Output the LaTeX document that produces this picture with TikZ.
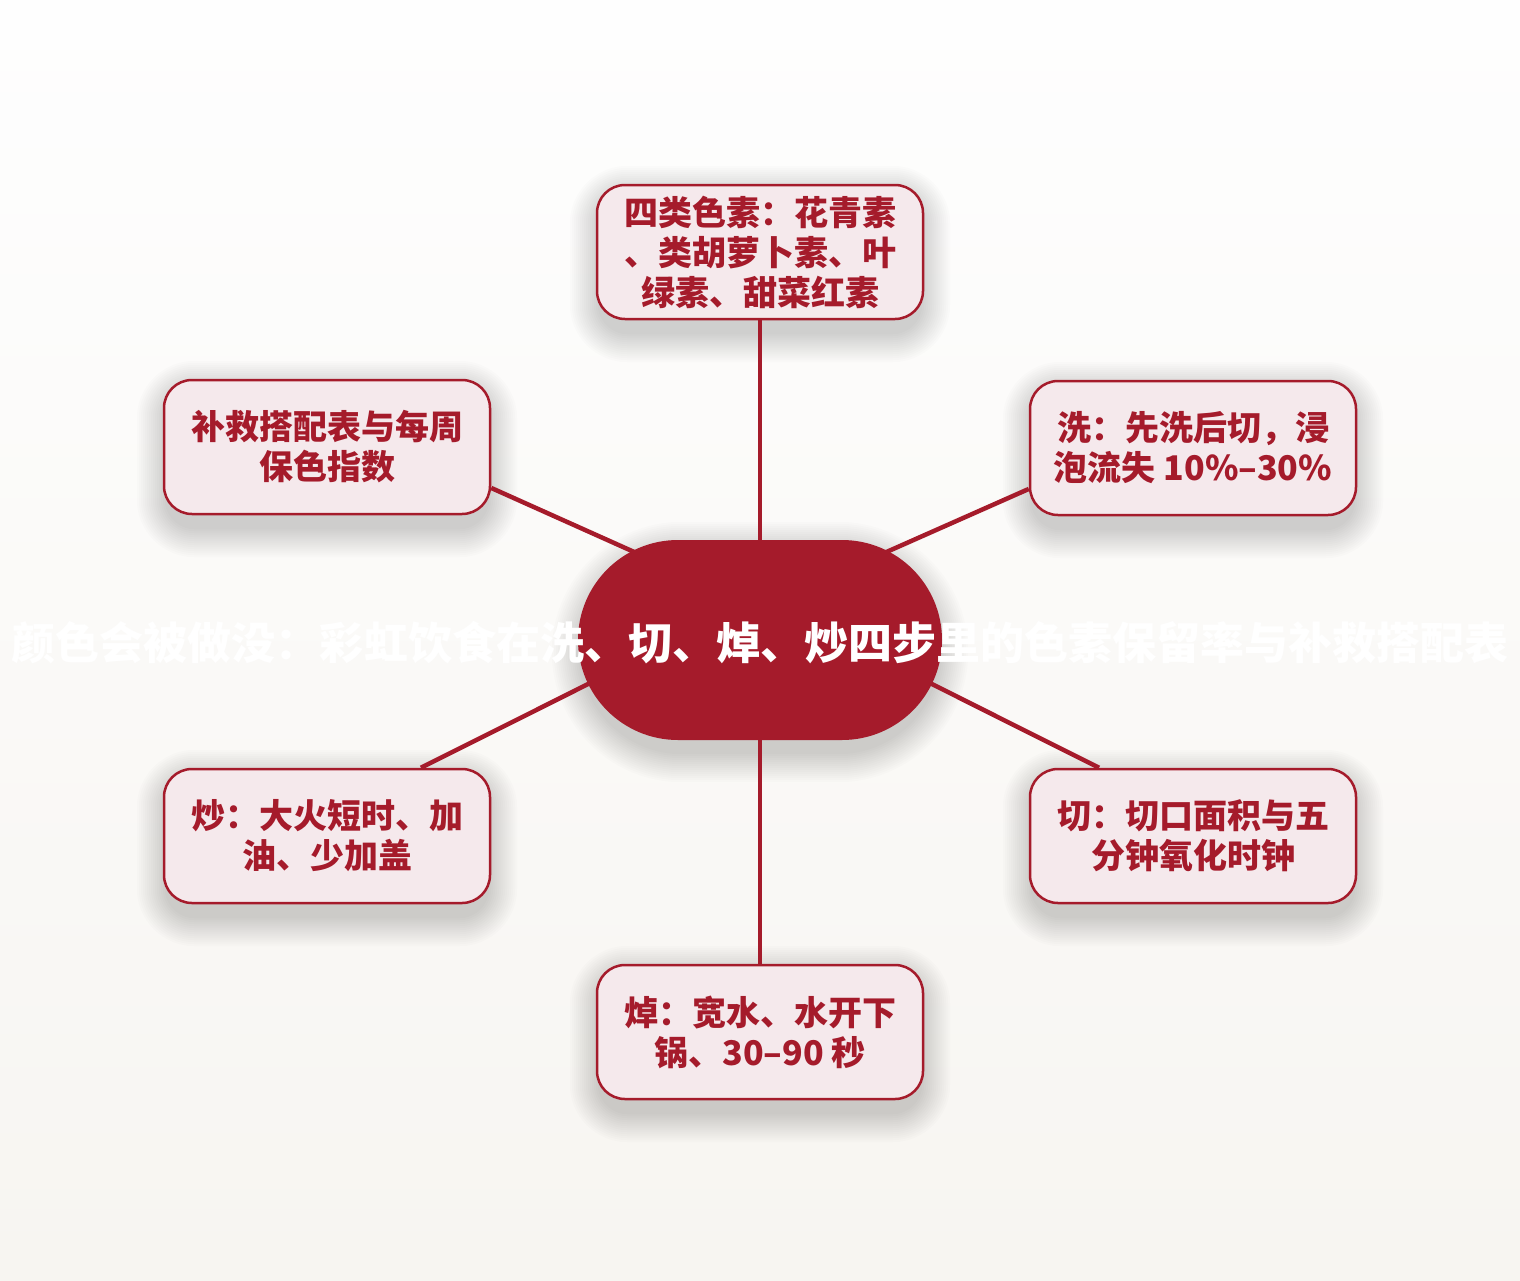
\documentclass[tikz,border=0pt]{standalone}
\usepackage{fontspec}
\setmainfont{Noto Sans CJK SC}
\usetikzlibrary{calc}

\definecolor{deepred}{HTML}{A51B2B}
\definecolor{leafpink}{HTML}{F5E9EC}
\definecolor{bgtop}{HTML}{FEFEFE}
\definecolor{bgbottom}{HTML}{F7F5F1}

\pgfdeclarelayer{bg}
\pgfdeclarelayer{links}
\pgfsetlayers{bg,links,main}

% soft shadow under a named node: #1 name, #2 corner radius
\newcommand{\softshade}[2]{
  \foreach \g in {2,4,...,30}
    \fill[black, opacity=0.011, rounded corners=#2+\g]
      ($(#1.north west)+(-\g+4,12-\g)$) rectangle ($(#1.south east)+(\g-4,12+\g)$);
}

\tikzset{
  leaf/.style={draw=deepred, fill=leafpink, line width=2.5pt, rounded corners=28pt,
      minimum width=326pt, minimum height=134pt, inner sep=0pt, align=center,
      text=deepred, font=\fontsize{34}{40}\selectfont\bfseries},
  hubbox/.style={fill=deepred, rounded corners=100pt, minimum width=364pt,
      minimum height=200pt, inner sep=0pt},
  link/.style={draw=deepred, line width=4.5pt}
}

\begin{document}
\begin{tikzpicture}[x=1pt,y=-1pt]
\begin{pgfonlayer}{bg}
\shade[top color=bgtop, bottom color=bgbottom] (0,0) rectangle (1520,1280);
\end{pgfonlayer}
\useasboundingbox (0,0) rectangle (1520,1280);

% hub and title
\node[hubbox] (hub) at (760,640) {};
\node[text=white, font=\fontsize{44}{50}\selectfont\bfseries] (title) at (760,643)
  {颜色会被做没：彩虹饮食在洗、切、焯、炒四步里的色素保留率与补救搭配表};

% leaves
\node[leaf] (pigment) at (760,252) {四类色素：花青素\\、类胡萝卜素、叶\\绿素、甜菜红素};
\node[leaf] (rescue) at (327,447) {补救搭配表与每周\\保色指数};
\node[leaf] (wash) at (1193,448) {洗：先洗后切，浸\\泡流失 10\%–30\%};
\node[leaf] (stirfry) at (327,836) {炒：大火短时、加\\油、少加盖};
\node[leaf] (cut) at (1193,836) {切：切口面积与五\\分钟氧化时钟};
\node[leaf] (blanch) at (760,1032) {焯：宽水、水开下\\锅、30–90 秒};

% shadows
\begin{pgfonlayer}{bg}
\softshade{hub}{100}
\foreach \n in {pigment,rescue,wash,stirfry,cut,blanch}
  {\softshade{\n}{28}}
\end{pgfonlayer}

% links
\begin{pgfonlayer}{links}
\draw[link] (pigment.south) -- (hub.center);
\draw[link] (blanch.north) -- (hub.center);
\draw[link] (rescue.-14) -- ($(hub.center)+(-70,-63)$);
\draw[link] (wash.194) -- ($(hub.center)+(70,-63)$);
\draw[link] (stirfry.36) -- ($(hub.center)+(-70,-7)$);
\draw[link] (cut.144) -- ($(hub.center)+(70,-7)$);
\end{pgfonlayer}
\end{tikzpicture}
\end{document}
